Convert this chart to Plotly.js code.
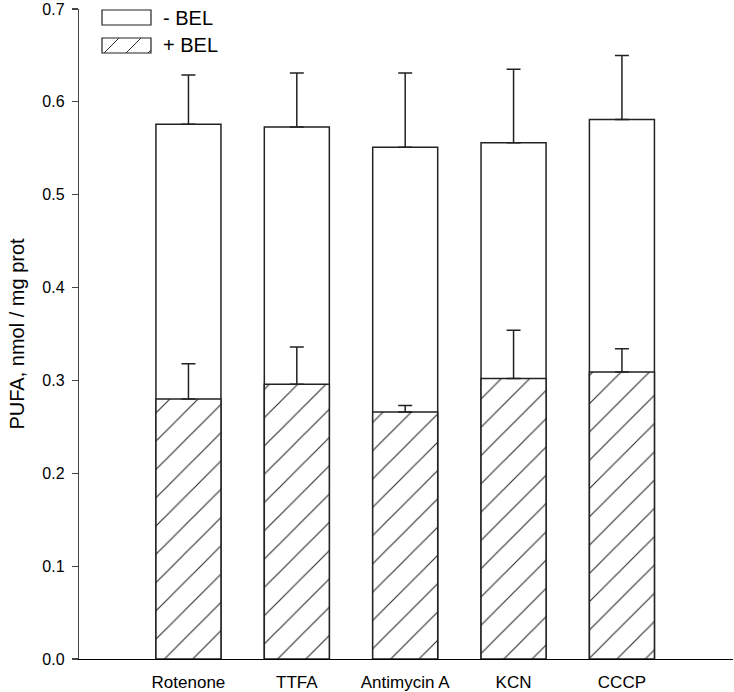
<!DOCTYPE html>
<html>
<head>
<meta charset="utf-8">
<script src="https://cdn.plot.ly/plotly-3.0.1.min.js"></script>
<style>
html,body{margin:0;padding:0;background:#fff;}
#chart{width:734px;height:692px;}
</style>
</head>
<body>
<div id="chart"></div>
<script>
const categories = ["Rotenone", "TTFA", "Antimycin A", "KCN", "CCCP"];
const minusBEL = [0.576, 0.573, 0.551, 0.556, 0.581];
const minusBELErr = [0.053, 0.058, 0.080, 0.079, 0.069];
const plusBEL = [0.280, 0.296, 0.266, 0.302, 0.309];
const plusBELErr = [0.038, 0.040, 0.007, 0.052, 0.025];
const seriesNames = ["- BEL", "+ BEL"];
const yTicks = [0, 0.1, 0.2, 0.3, 0.4, 0.5, 0.6, 0.7];

const FONT = "Liberation Sans, Arial, sans-serif";
const W = 734, H = 692;
const L = 79, R = 733, T = 9, B = 659;
const px = x => (x - L) / (R - L);
const py = y => (B - y) / (B - T);

const lineCol = "#222";

const traces = [
  {
    type: "bar", name: seriesNames[0], x: categories, y: minusBEL, width: 0.6,
    marker: {color: "#ffffff", line: {color: lineCol, width: 1.5}},
    error_y: {type: "data", symmetric: false, array: minusBELErr, arrayminus: minusBEL.map(() => 0),
              color: lineCol, thickness: 1.5, width: 7},
    showlegend: false, hoverinfo: "x+y"
  },
  {
    type: "bar", name: seriesNames[1], x: categories, y: plusBEL, width: 0.6,
    marker: {color: "#ffffff", line: {color: lineCol, width: 1.5},
             pattern: {shape: "/", size: 20, solidity: 0.06, fgcolor: "#333", bgcolor: "#ffffff", fillmode: "replace"}},
    error_y: {type: "data", symmetric: false, array: plusBELErr, arrayminus: plusBEL.map(() => 0),
              color: lineCol, thickness: 1.5, width: 7},
    showlegend: false, hoverinfo: "x+y"
  }
];

// legend drawn as shapes + text
const shapes = [
  {type: "rect", xref: "paper", yref: "paper", x0: px(102), x1: px(151), y0: py(25), y1: py(10),
   line: {color: lineCol, width: 1.2}, fillcolor: "#fff"},
  {type: "rect", xref: "paper", yref: "paper", x0: px(102), x1: px(151), y0: py(53), y1: py(38),
   line: {color: lineCol, width: 1.2}, fillcolor: "#fff"}
];
[[104, 53, 119, 38], [126, 53, 141, 38], [148, 53, 151, 50]].forEach(s => {
  shapes.push({type: "line", xref: "paper", yref: "paper", x0: px(s[0]), y0: py(s[1]), x1: px(s[2]), y1: py(s[3]),
               line: {color: "#333", width: 1}});
});
const annotations = [
  {xref: "paper", yref: "paper", x: px(161), y: py(17.5), text: seriesNames[0], showarrow: false,
   xanchor: "left", yanchor: "middle", font: {family: FONT, size: 20, color: "#000"}},
  {xref: "paper", yref: "paper", x: px(161), y: py(45.5), text: seriesNames[1], showarrow: false,
   xanchor: "left", yanchor: "middle", font: {family: FONT, size: 20, color: "#000"}}
];

const layout = {
  width: W, height: H,
  margin: {l: L, r: W - R, t: T, b: H - B},
  paper_bgcolor: "#fff", plot_bgcolor: "#fff",
  barmode: "overlay",
  showlegend: false,
  font: {family: FONT, color: "#000"},
  xaxis: {
    type: "category", range: [-1.01, 5.025], showgrid: false, zeroline: false,
    showline: true, linecolor: "#000", linewidth: 1.2, ticks: "",
    ticklabelstandoff: 7,
    tickfont: {family: FONT, size: 17, color: "#000"}
  },
  yaxis: {
    range: [0, 0.7], tickvals: yTicks, tickformat: ".1f", showgrid: false, zeroline: false,
    showline: true, linecolor: "#444", linewidth: 1.2, ticks: "outside", ticklen: 6, tickcolor: "#444", tickwidth: 1.2,
    ticklabelstandoff: 4,
    tickfont: {family: FONT, size: 16, color: "#000"},
    title: {text: "PUFA, nmol / mg prot", font: {family: FONT, size: 20, color: "#000"}, standoff: 12}
  },
  shapes: shapes,
  annotations: annotations
};

Plotly.newPlot("chart", traces, layout, {displayModeBar: false, staticPlot: true});
</script>
</body>
</html>
